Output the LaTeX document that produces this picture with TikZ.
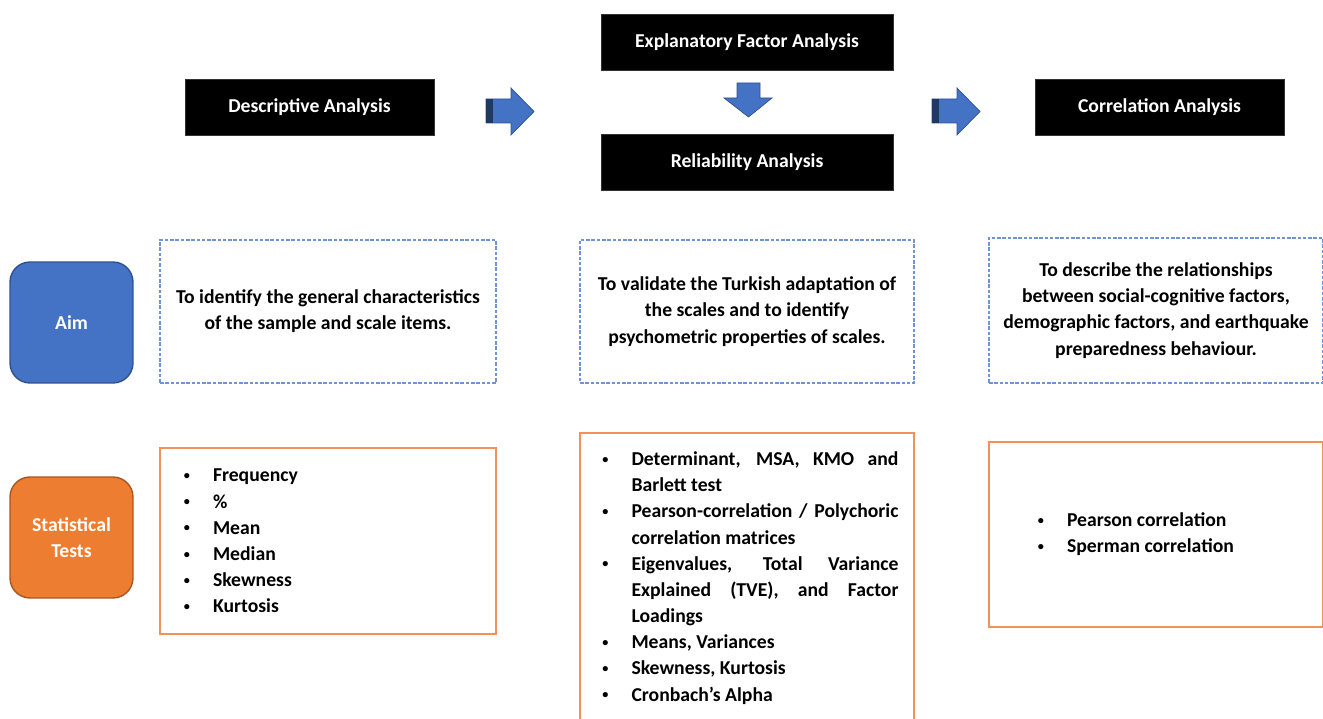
\documentclass[tikz,border=0pt]{standalone}
\usepackage{fontspec}
\setmainfont{Carlito}
\usepackage{enumitem}
\usetikzlibrary{positioning}
\definecolor{aimblue}{HTML}{4472C4}
\definecolor{aimedge}{HTML}{2F528F}
\definecolor{dashblue}{HTML}{6F94D6}
\definecolor{testorange}{HTML}{ED7D31}
\definecolor{testedge}{HTML}{A9561F}
\definecolor{lineorange}{HTML}{F0925A}
\definecolor{arrowdark}{HTML}{1F3864}
\setlist[itemize]{label=\raisebox{0.12em}{\scalebox{0.62}{\textbullet}},labelsep=0.46cm,itemsep=0pt,parsep=0pt,topsep=0pt,partopsep=0pt}

\begin{document}
\begin{tikzpicture}[x=0.02cm,y=-0.02cm,
every node/.style={font=\bfseries\fontsize{11.2}{14.9}\selectfont},
stage/.style={draw=black!80,fill=black,text=white,minimum width=4.98cm,minimum height=1.12cm},
rowhead/.style={rounded corners=0.4cm,thick,text=white,align=center,minimum width=2.46cm,minimum height=2.42cm},
aimbox/.style={draw=dashblue,line width=1pt,dash pattern=on 2pt off 1pt,align=center,minimum width=6.72cm,minimum height=2.86cm},
testbox/.style={draw=lineorange,line width=1pt,inner sep=0pt,minimum width=6.72cm},
blockarrow/.style={fill=aimblue,draw=aimedge,line width=0.4pt}]

\useasboundingbox (0,0) rectangle (1323,719);
\clip (0,0) rectangle (1323,719);

% analysis stages
\draw (309.5,107) node[stage] (desc) {Descriptive Analysis};
\draw (747,42) node[stage,minimum width=5.84cm] (efa) {Explanatory Factor Analysis};
\draw (747,162.5) node[stage,minimum width=5.84cm] (rel) {Reliability Analysis};
\draw (1159.5,107) node[stage] (corr) {Correlation Analysis};

% block arrows
\foreach \dx in {0,446} {
\filldraw[blockarrow,shift={(\dx,0)}] (486,99) -- (511,99) -- (511,88) -- (534,111.5) -- (511,135) -- (511,123) -- (486,123) -- cycle;
\fill[arrowdark,shift={(\dx,0)}] (486,99) rectangle (493,123);
}
\filldraw[blockarrow] (737,83) -- (760,83) -- (760,98) -- (772,98) -- (748.5,117) -- (724,98) -- (737,98) -- cycle;

% row headings
\draw (71.5,322.5) node[rowhead,fill=aimblue,draw=aimedge] (aim) {Aim};
\draw (71.5,537.5) node[rowhead,fill=testorange,draw=testedge] (tests) {Statistical\\Tests};

% aims
\draw (328,311.5) node[aimbox] (aimdesc) {To identify the general characteristics\\of the sample and scale items.};
\draw (747,311.5) node[aimbox,minimum width=6.68cm] (aimefa) {To validate the Turkish adaptation of\\the scales and to identify\\psychometric properties of scales.};
\draw (1156,310.5) node[aimbox,minimum width=6.68cm,minimum height=2.9cm] (aimcorr) {To describe the relationships\\between social-cognitive factors,\\demographic factors, and earthquake\\preparedness behaviour.};

% statistical tests
\draw (328,541) node[testbox,minimum height=3.72cm] (testdesc) {\begin{minipage}{5.92cm}
\begin{itemize}[leftmargin=0.66cm]
\item Frequency
\item \%
\item Mean
\item Median
\item Skewness
\item Kurtosis
\end{itemize}\end{minipage}};
\draw (747,578) node[testbox,minimum width=6.68cm,minimum height=5.8cm] (testefa) {\begin{minipage}{6.06cm}
\hyphenpenalty=10000
\begin{itemize}[leftmargin=0.72cm]
\item \makebox[\linewidth][s]{Determinant, MSA, KMO and}\\ Barlett test
\item \makebox[\linewidth][s]{Pearson-correlation / Polychoric}\\ correlation matrices
\item \makebox[\linewidth][s]{Eigenvalues, Total Variance}\\ \makebox[\linewidth][s]{Explained (TVE), and Factor}\\ Loadings
\item Means, Variances
\item Skewness, Kurtosis
\item Cronbach’s Alpha
\end{itemize}\end{minipage}};
\draw (1156,534.5) node[testbox,minimum width=6.68cm,minimum height=3.7cm] (testcorr) {\begin{minipage}{5.92cm}
\begin{itemize}[leftmargin=1.18cm]
\item Pearson correlation
\item Sperman correlation
\end{itemize}\end{minipage}};
\end{tikzpicture}
\end{document}
